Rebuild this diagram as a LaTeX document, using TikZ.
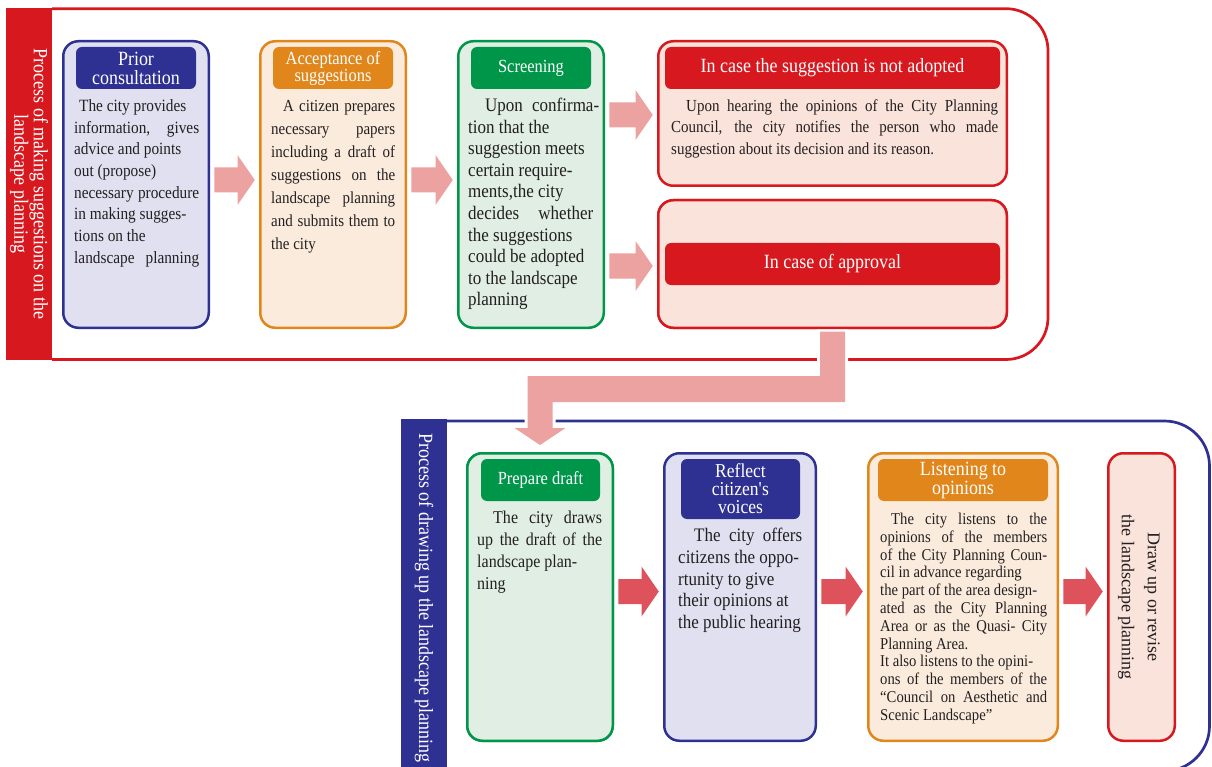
\documentclass[tikz,border=0pt]{standalone}
\usepackage{fontspec}
\setmainfont[FakeStretch=0.89]{Liberation Serif}
\newfontfamily\plainserif{Liberation Serif}
\usetikzlibrary{calc}

\definecolor{cred}{HTML}{D7191F}
\definecolor{credf}{HTML}{FAE3DB}
\definecolor{cblue}{HTML}{2E3192}
\definecolor{cbluef}{HTML}{E0E0F0}
\definecolor{corange}{HTML}{E0861A}
\definecolor{corangef}{HTML}{FBEBDD}
\definecolor{cgreen}{HTML}{00964A}
\definecolor{cgreenf}{HTML}{E0EEE3}
\definecolor{cpink}{HTML}{EBA2A0}
\definecolor{carrow}{HTML}{DE525B}
\definecolor{ctext}{HTML}{231F20}

\newcommand\myfs[2]{\fontsize{#1pt}{#2pt}\selectfont}
\newcommand\JL[1]{\hbox to\hsize{#1}}
\newcommand\NL[1]{\hbox to\hsize{#1\hfil}}
% #1 width, #2 font size, #3 leading, #4 lines
\newcommand\txtblock[4]{\vtop{\hsize=#1pt\relax\fontsize{#2pt}{#3pt}\selectfont
  \baselineskip=#3pt\relax\lineskiplimit=-\maxdimen\relax\lineskip=0pt\relax #4}}
\newcommand\harrow[4]{%
 \fill[#4] let \p1=(#1.east), \p2=(#2.west) in
 (\x1+4.25pt,-#3pt+12.5pt) -- (\x2-21.5pt,-#3pt+12.5pt) -- (\x2-21.5pt,-#3pt+25pt)
 -- (\x2-4.25pt,-#3pt) -- (\x2-21.5pt,-#3pt-25pt) -- (\x2-21.5pt,-#3pt-12.5pt)
 -- (\x1+4.25pt,-#3pt-12.5pt) -- cycle;}

\tikzset{
 box/.style={rounded corners=15pt, line width=2.5pt, inner sep=0pt},
 hdr/.style={rounded corners=6pt, inner sep=0pt, text=white, align=center, minimum height=42pt},
 body/.style={inner sep=0pt, text=ctext, anchor=base west},
 side/.style={rotate=-90, inner sep=0pt, text=white, align=center, minimum height=46pt, font=\myfs{20.2}{17.5}},
 frame/.style={line width=2.7pt, rounded corners=42pt},
}

\begin{document}
\begin{tikzpicture}[x=1pt,y=-1pt]
\useasboundingbox (0,0) rectangle (1212,767);
\clip (0,0) rectangle (1212,767);

% frames
\draw[frame, cred] (52,8.7) -- (1048,8.7) -- (1048,359.5) -- (52,359.5);
\draw[frame, cblue, rounded corners=45pt] (447,421) -- (1209.5,421) -- (1209.5,771) -- (447,771);

% sidebars
\node[side, fill=cred, minimum width=352pt] (s1) at (29,184)
  {Process of making suggestions on the\\landscape planning};
\node[side, fill=cblue, minimum width=358pt] (s2) at (424,598)
  {Process of drawing up the landscape planning};

% boxes (top)
\node[box, draw=cblue, fill=cbluef, minimum width=145.5pt, minimum height=286.5pt] (b1) at (136,184.5) {};
\node[box, draw=corange, fill=corangef, minimum width=145.5pt, minimum height=286.5pt] (b2) at (333,184.5) {};
\node[box, draw=cgreen, fill=cgreenf, minimum width=145.5pt, minimum height=286.5pt] (b3) at (531,184.5) {};
\node[box, draw=cred, fill=credf, minimum width=348.5pt, minimum height=144.5pt] (b4) at (832.5,113.5) {};
\node[box, draw=cred, fill=credf, minimum width=348.5pt, minimum height=127.5pt] (b5) at (832.5,264) {};

% boxes (bottom)
\node[box, draw=cgreen, fill=cgreenf, minimum width=145.5pt, minimum height=287.5pt] (b6) at (540,597) {};
\node[box, draw=cblue, fill=cbluef, minimum width=151.5pt, minimum height=287.5pt] (b7) at (740,597) {};
\node[box, draw=corange, fill=corangef, minimum width=189.5pt, minimum height=287.5pt] (b8) at (963,597) {};
\node[box, draw=cred, fill=credf, minimum width=66.5pt, minimum height=287.5pt] (b9) at (1141.5,597) {};

% big connecting arrow
\fill[cpink, preaction={draw=white, line width=6pt}] let \p1=(b5.south), \p2=(b6.north) in
  (\x1+12.5pt,\y1-2.5pt) -- (\x1+12.5pt,-402pt) -- (\x2+12.5pt,-402pt) -- (\x2+12.5pt,-428pt)
  -- (\x2+25.5pt,-428pt) -- (\x2,\y2+7pt) -- (\x2-25.5pt,-428pt) -- (\x2-12.5pt,-428pt)
  -- (\x2-12.5pt,-376pt) -- (\x1-12.5pt,-376pt) -- (\x1-12.5pt,\y1-2.5pt) -- cycle;
% redraw box borders over arrow preaction
\node[box, draw=cred, fill=credf, minimum width=348.5pt, minimum height=127.5pt] at (b5.center) {};
\node[box, draw=cgreen, fill=cgreenf, minimum width=145.5pt, minimum height=287.5pt] at (b6.center) {};

% headers
\node[hdr, fill=cblue, minimum width=120pt, font=\myfs{20.2}{19}] (h1) at (136,68) {Prior\\consultation};
\node[hdr, fill=corange, minimum width=120pt, font=\myfs{18.5}{17}] (h2) at (333,68) {Acceptance of\\suggestions};
\node[hdr, fill=cgreen, minimum width=120pt, font=\myfs{18.5}{17}] (h3) at (531,68) {Screening};
\node[hdr, fill=cred, minimum width=335pt, font=\myfs{20.2}{19}] (h4) at (832.5,68) {In case the suggestion is not adopted};
\node[hdr, fill=cred, minimum width=335pt, font=\myfs{20.2}{19}] (h5) at (832.5,264) {In case of approval};
\node[hdr, fill=cgreen, minimum width=119pt, font=\myfs{18.5}{17}] (h6) at (540.5,480) {Prepare draft};
\node[hdr, fill=cblue, minimum width=119pt, minimum height=60pt, font=\myfs{19.7}{18}] (h7) at (740.5,489) {Reflect\\citizen\textquotesingle s\\voices};
\node[hdr, fill=corange, minimum width=170pt, font=\myfs{20.2}{19}] (h8) at (963,480) {Listening to\\opinions};

% body texts
\node[body] (t1) at (74,111.5) {\txtblock{125}{17.2}{21.7}{%
\NL{\kern5pt The city provides}
\JL{information, gives}
\NL{advice and points}
\NL{out (propose)}
\JL{necessary procedure}
\NL{in making sugges-}
\NL{tions on the}
\JL{landscape planning}}};

\node[body] (t2) at (271,111.5) {\txtblock{124}{16.85}{23}{%
\JL{\kern12pt A citizen prepares}
\JL{necessary papers}
\JL{including a draft of}
\JL{suggestions on the}
\JL{landscape planning}
\JL{and submits them to}
\NL{the city}}};

\node[body] (t3) at (468,111.5) {\txtblock{131}{19.1}{21.6}{%
\JL{\kern17pt Upon confirma-}
\NL{tion that the}
\NL{suggestion meets}
\NL{certain require-}
\NL{ments,the city}
\hbox to 125pt{decides whether}
\NL{the suggestions}
\NL{could be adopted}
\NL{to the landscape}
\NL{planning}}};

\node[body] (t4) at (671,111.5) {\txtblock{327}{16.85}{21.5}{%
\JL{\kern15pt Upon hearing the opinions of the City Planning}
\JL{Council, the city notifies the person who made}
\NL{suggestion about its decision and its reason.}}};

\node[body] (t6) at (477,523.5) {\txtblock{125}{18}{22}{%
\JL{\kern16pt The city draws}
\JL{up the draft of the}
\NL{landscape plan-}
\NL{ning}}};

\node[body] (t7) at (678,541.5) {\txtblock{124}{19.1}{21.8}{%
\JL{\kern16pt The city offers}
\NL{citizens the oppo-}
\NL{rtunity to give}
\NL{their opinions at}
\NL{the public hearing}}};

\node[body] (t8) at (880,524.5) {\txtblock{167}{16.5}{17.8}{%
\JL{\kern11pt The city listens to the}
\JL{opinions of the members}
\JL{of the City Planning Coun-}
\NL{cil in advance regarding}
\NL{the part of the area design-}
\JL{ated as the City Planning}
\JL{Area or as the Quasi- City}
\NL{Planning Area.}
\NL{It also listens to the opini-}
\JL{ons of the members of the}
\JL{“Council on Aesthetic and}
\NL{Scenic Landscape”}}};

\node[rotate=-90, align=center, inner sep=0pt, text=ctext, font=\plainserif\myfs{18}{26}] (t9) at (1139,597)
  {Draw up or revise\\the landscape planning};

% small block arrows
\harrow{b1}{b2}{180}{cpink}
\harrow{b2}{b3}{180}{cpink}
\harrow{b3}{b4}{115}{cpink}
\harrow{b3}{b5}{266}{cpink}
\harrow{b6}{b7}{591.5}{carrow}
\harrow{b7}{b8}{591.5}{carrow}
\harrow{b8}{b9}{591.5}{carrow}
\end{tikzpicture}
\end{document}
